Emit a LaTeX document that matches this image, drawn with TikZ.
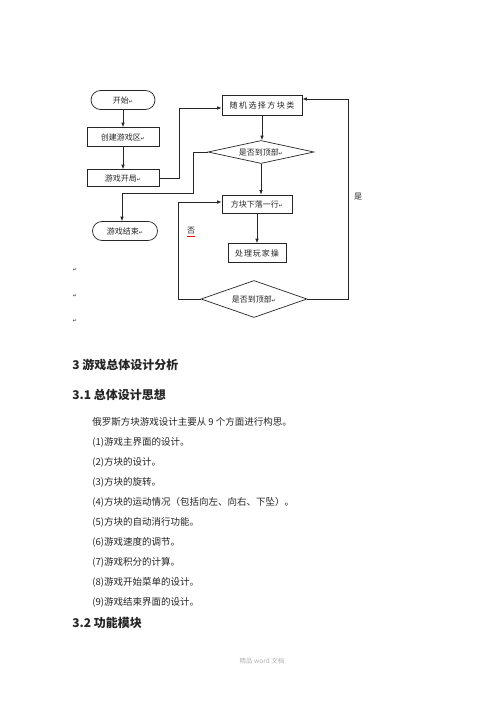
\documentclass[tikz,border=0pt]{standalone}
\usepackage{fontspec}
\usepackage{tikz}
\usepackage{xcolor}
\usetikzlibrary{shapes.geometric,arrows.meta}
\setmainfont{Noto Sans CJK SC}
\newfontfamily\markfont{DejaVu Sans}
\newcommand{\ret}{{\markfont\fontsize{5}{5}\selectfont ↵}}

\begin{document}
\begin{tikzpicture}[x=1pt,y=-1pt,line width=0.7pt,color=black!85,
  every node/.style={font=\fontsize{8}{9}\selectfont,inner sep=0pt},
  box/.style={draw,rectangle,minimum height=19pt},
  term/.style={draw,rectangle,rounded corners=9.5pt,minimum height=19pt},
  dec/.style={draw,diamond,aspect=4},
  arr/.style={-{Latex[length=4.5pt,width=3.5pt]}},
  head/.style={font=\fontsize{12}{14}\selectfont\bfseries,anchor=west},
  body/.style={font=\fontsize{9.5}{11}\selectfont,anchor=west}]
\fill[white] (0,0) rectangle (500,707);
\useasboundingbox (0,0) rectangle (500,707);

\node[term,minimum width=64pt] (start) at (123,100) {开始\ret};
\node[box,minimum width=72pt] (create) at (123,137) {创建游戏区\ret};
\node[box,minimum width=72pt,minimum height=17pt] (open) at (123,178) {游戏开局\ret};
\node[term,minimum width=65pt] (end) at (125,231) {游戏结束\ret};
\node[box,minimum width=80pt,minimum height=20pt] (rand) at (262,105) {\addfontfeatures{LetterSpace=18}随机选择方块类};
\node[dec,minimum width=106pt,minimum height=23pt] (top1) at (261,152) {是否到顶部\ret};
\node[box,minimum width=70pt,minimum height=18pt] (fall) at (257,204) {方块下落一行\ret};
\node[box,minimum width=58pt] (op) at (257,253) {\addfontfeatures{LetterSpace=12}处理玩家操};
\node[dec,minimum width=106pt,minimum height=37pt,aspect=2.9] (top2) at (254,299) {是否到顶部\ret};
\node (no) at (191,232) {\textcolor{red}{\underline{\textcolor{black!85}{否}}}};
\node (yes) at (358,197) {是};
\coordinate (j1) at (122,193);

\draw[arr] (start) -- (create);
\draw[arr] (create) -- (open);
\draw[arr] (open.east) -- ++(20,0) |- ([yshift=-3pt]rand.west);
\draw[arr] (rand.south) -- (rand.south |- top1.north);
\draw[arr] (top1.west) -- ++(-14,0) |- (j1) -- (j1 |- end.north);
\draw[arr] (top1.south) -- (top1.south |- fall.north);
\draw[arr] (fall) -- (op);
\draw[arr] (top2.west) -- ++(-22,0) |- ([yshift=2pt]fall.west);
\draw[arr] (top2.east) -- ++(41,0) |- ([yshift=6pt]rand.east);

\foreach \y in {270,296,321} \node (p\y) at (75,\y) {\ret};

\node[head] (h3) at (72,365) {3 游戏总体设计分析};
\node[head] (h31) at (72,395) {3.1 总体设计思想};
\node[body] (intro) at (92,422) {俄罗斯方块游戏设计主要从 9 个方面进行构思。};
\foreach \t [count=\i] in {游戏主界面的设计。,方块的设计。,方块的旋转。,
  方块的运动情况（包括向左、向右、下坠）。,方块的自动消行功能。,游戏速度的调节。,
  游戏积分的计算。,游戏开始菜单的设计。,游戏结束界面的设计。}
  \node[body] (it\i) at (92,422+20*\i) {(\i)\t};
\node[head] (h32) at (72,623) {3.2 功能模块};
\node[font=\fontsize{6.5}{7}\selectfont,text=black!30] (foot) at (262,661) {精品 word 文档};
\end{tikzpicture}
\end{document}
